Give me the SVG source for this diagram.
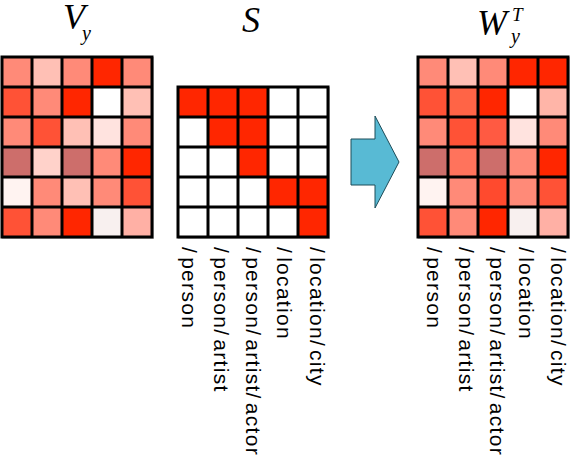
<svg xmlns="http://www.w3.org/2000/svg" width="572" height="456" viewBox="0 0 572 456">
<style>
.R{fill:#FF2600}.O{fill:#FF5236}.S{fill:#FF8A78}.L{fill:#FFC0B5}.L2{fill:#FFB0A5}.P{fill:#FFE3DF}.PP{fill:#FFD2CA}.D{fill:#CD6E6B}.W{fill:#FFF3F1}.G{fill:#F8F0EF}.X{fill:#FFFFFF}
.grid{fill:none;stroke:#000;stroke-width:3}
.shadow{fill:none;stroke:#c4c4c4;stroke-width:2}
.title{font-family:"Liberation Serif","Times New Roman",serif;font-style:italic;fill:#000}
.lbl{font-family:"Liberation Sans",Arial,sans-serif;font-size:21px;letter-spacing:1.3px;fill:#000}
.arrow{fill:#58BAD4;stroke:#1d4c59;stroke-width:1}
</style>

<g id="Vy">
<text class="title" x="63" y="29" font-size="36">V</text>
<text class="title" x="82" y="40" font-size="20">y</text>
<rect class="shadow" x="3" y="58" width="150" height="180"/>
<g transform="translate(2,57)">
<rect class="S" x="0" y="0" width="30" height="30"/><rect class="L" x="30" y="0" width="30" height="30"/><rect class="S" x="60" y="0" width="30" height="30"/><rect class="R" x="90" y="0" width="30" height="30"/><rect class="S" x="120" y="0" width="30" height="30"/>
<rect class="O" x="0" y="30" width="30" height="30"/><rect class="S" x="30" y="30" width="30" height="30"/><rect class="R" x="60" y="30" width="30" height="30"/><rect class="X" x="90" y="30" width="30" height="30"/><rect class="L" x="120" y="30" width="30" height="30"/>
<rect class="S" x="0" y="60" width="30" height="30"/><rect class="O" x="30" y="60" width="30" height="30"/><rect class="L" x="60" y="60" width="30" height="30"/><rect class="P" x="90" y="60" width="30" height="30"/><rect class="S" x="120" y="60" width="30" height="30"/>
<rect class="D" x="0" y="90" width="30" height="30"/><rect class="PP" x="30" y="90" width="30" height="30"/><rect class="D" x="60" y="90" width="30" height="30"/><rect class="S" x="90" y="90" width="30" height="30"/><rect class="R" x="120" y="90" width="30" height="30"/>
<rect class="W" x="0" y="120" width="30" height="30"/><rect class="S" x="30" y="120" width="30" height="30"/><rect class="L" x="60" y="120" width="30" height="30"/><rect class="S" x="90" y="120" width="30" height="30"/><rect class="O" x="120" y="120" width="30" height="30"/>
<rect class="O" x="0" y="150" width="30" height="30"/><rect class="S" x="30" y="150" width="30" height="30"/><rect class="R" x="60" y="150" width="30" height="30"/><rect class="G" x="90" y="150" width="30" height="30"/><rect class="L2" x="120" y="150" width="30" height="30"/>
<path class="grid" d="M0 0H150V180H0Z M30 0V180 M60 0V180 M90 0V180 M120 0V180 M0 30H150 M0 60H150 M0 90H150 M0 120H150 M0 150H150"/>
</g>
</g>

<g id="S">
<text class="title" x="242" y="32" font-size="36">S</text>
<rect class="shadow" x="179" y="88" width="150" height="150"/>
<g transform="translate(178,87)">
<rect class="X" x="0" y="0" width="150" height="150"/>
<rect class="R" x="0" y="0" width="90" height="30"/>
<rect class="R" x="30" y="30" width="60" height="30"/>
<rect class="R" x="60" y="60" width="30" height="30"/>
<rect class="R" x="90" y="90" width="60" height="30"/>
<rect class="R" x="120" y="120" width="30" height="30"/>
<path class="grid" d="M0 0H150V150H0Z M30 0V150 M60 0V150 M90 0V150 M120 0V150 M0 30H150 M0 60H150 M0 90H150 M0 120H150"/>
</g>
<text class="lbl" transform="translate(182,247) rotate(90)">/<tspan dx="3">person</tspan></text>
<text class="lbl" transform="translate(214,247) rotate(90)">/<tspan dx="3">person/</tspan><tspan dx="3">artist</tspan></text>
<text class="lbl" transform="translate(246,247) rotate(90)">/<tspan dx="3">person/</tspan><tspan dx="3">artist/</tspan><tspan dx="3">actor</tspan></text>
<text class="lbl" transform="translate(277,247) rotate(90)">/<tspan dx="3">location</tspan></text>
<text class="lbl" transform="translate(310,247) rotate(90)">/<tspan dx="3">location/</tspan><tspan dx="3">city</tspan></text>
</g>

<g id="connectors">
<polygon class="arrow" points="351,139 375,139 375,116 399,162 375,208 375,185 351,185"/>
</g>

<g id="WyT">
<text class="title" x="477" y="35" font-size="36">W</text>
<text class="title" x="512" y="21" font-size="19">T</text>
<text class="title" x="511" y="43" font-size="20">y</text>
<rect class="shadow" x="419" y="58" width="150" height="180"/>
<g transform="translate(418,57)">
<rect class="S" x="0" y="0" width="30" height="30"/><rect class="L" x="30" y="0" width="30" height="30"/><rect class="S" x="60" y="0" width="30" height="30"/><rect class="R" x="90" y="0" width="30" height="30"/><rect class="R" x="120" y="0" width="30" height="30"/>
<rect class="O" x="0" y="30" width="30" height="30"/><rect fill="#FF6446" x="30" y="30" width="30" height="30"/><rect class="R" x="60" y="30" width="30" height="30"/><rect class="X" x="90" y="30" width="30" height="30"/><rect fill="#FFB5A8" x="120" y="30" width="30" height="30"/>
<rect class="S" x="0" y="60" width="30" height="30"/><rect class="O" x="30" y="60" width="30" height="30"/><rect fill="#FF5A42" x="60" y="60" width="30" height="30"/><rect class="P" x="90" y="60" width="30" height="30"/><rect class="S" x="120" y="60" width="30" height="30"/>
<rect class="D" x="0" y="90" width="30" height="30"/><rect fill="#FF735C" x="30" y="90" width="30" height="30"/><rect class="D" x="60" y="90" width="30" height="30"/><rect class="S" x="90" y="90" width="30" height="30"/><rect class="R" x="120" y="90" width="30" height="30"/>
<rect class="W" x="0" y="120" width="30" height="30"/><rect class="S" x="30" y="120" width="30" height="30"/><rect fill="#FF4A2E" x="60" y="120" width="30" height="30"/><rect class="S" x="90" y="120" width="30" height="30"/><rect class="O" x="120" y="120" width="30" height="30"/>
<rect class="O" x="0" y="150" width="30" height="30"/><rect class="S" x="30" y="150" width="30" height="30"/><rect class="R" x="60" y="150" width="30" height="30"/><rect class="G" x="90" y="150" width="30" height="30"/><rect class="L2" x="120" y="150" width="30" height="30"/>
<path class="grid" d="M0 0H150V180H0Z M30 0V180 M60 0V180 M90 0V180 M120 0V180 M0 30H150 M0 60H150 M0 90H150 M0 120H150 M0 150H150"/>
</g>
<text class="lbl" transform="translate(427,247) rotate(90)">/<tspan dx="3">person</tspan></text>
<text class="lbl" transform="translate(459,247) rotate(90)">/<tspan dx="3">person/</tspan><tspan dx="3">artist</tspan></text>
<text class="lbl" transform="translate(490,247) rotate(90)">/<tspan dx="3">person/</tspan><tspan dx="3">artist/</tspan><tspan dx="3">actor</tspan></text>
<text class="lbl" transform="translate(519,247) rotate(90)">/<tspan dx="3">location</tspan></text>
<text class="lbl" transform="translate(551,247) rotate(90)">/<tspan dx="3">location/</tspan><tspan dx="3">city</tspan></text>
</g>
</svg>
